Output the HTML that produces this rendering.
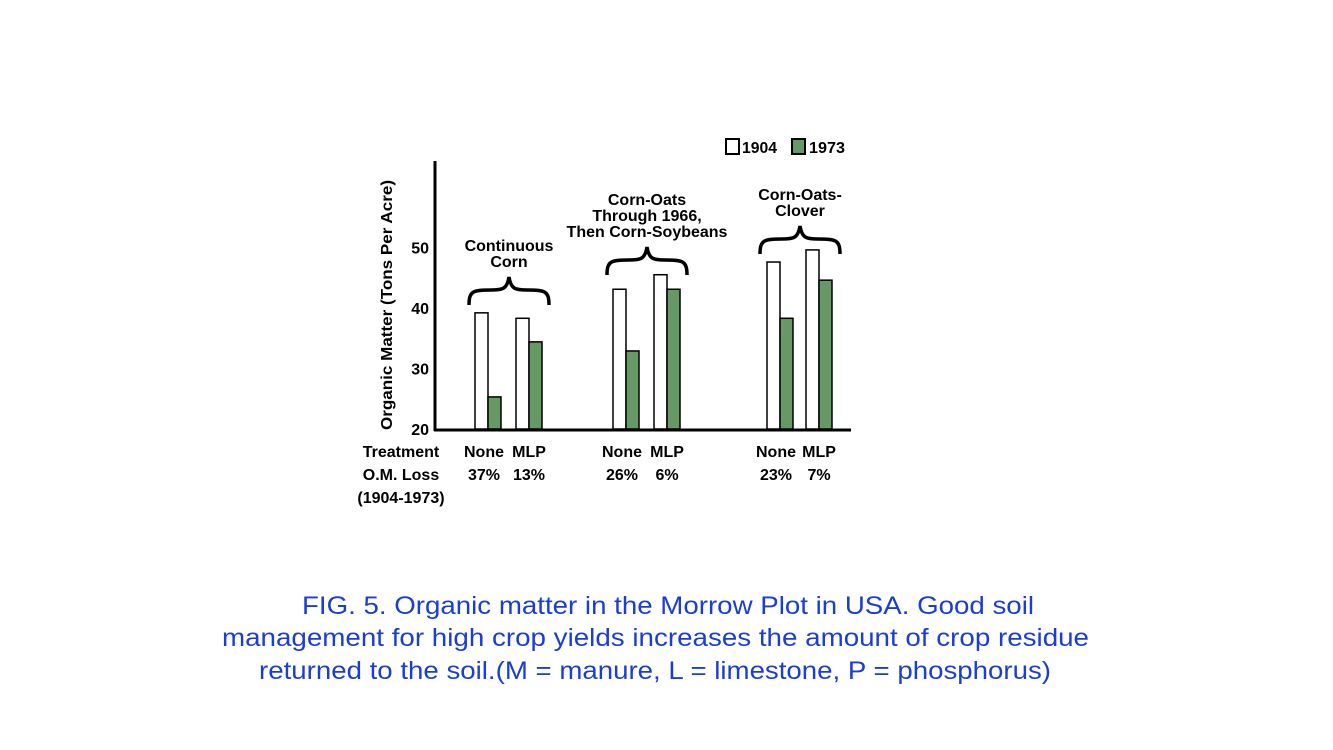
<!DOCTYPE html>
<html><head><meta charset="utf-8"><style>
html,body{margin:0;padding:0;background:#fff;}
svg{display:block;font-family:"Liberation Sans",sans-serif;}
.b{font-weight:bold;font-size:16px;fill:#000;}
.cap{font-size:25px;fill:#1a3ed4;}
</style></head><body>
<svg id="chart" width="1333" height="750" viewBox="0 0 1333 750">
<g id="bars"></g>
<line x1="435" y1="161" x2="435" y2="431" stroke="#000" stroke-width="3"/>
<line x1="434" y1="430" x2="851" y2="430" stroke="#000" stroke-width="3"/>
<g id="ticks"></g>
<text class="b" transform="translate(392,305) rotate(-90)" text-anchor="middle" textLength="250" lengthAdjust="spacingAndGlyphs">Organic Matter (Tons Per Acre)</text>
<g>
<rect x="726" y="139" width="13" height="15" fill="#fff" stroke="#000" stroke-width="2"/>
<text class="b" x="742" y="153" textLength="35" lengthAdjust="spacingAndGlyphs">1904</text>
<rect x="792" y="139" width="13" height="15" fill="#669966" stroke="#000" stroke-width="2"/>
<text class="b" x="809" y="153" textLength="36" lengthAdjust="spacingAndGlyphs">1973</text>
</g>
<g id="groups"></g>
<g id="bottom"></g>
<g>
<text class="cap" x="302" y="614" textLength="732" lengthAdjust="spacingAndGlyphs">FIG. 5. Organic matter in the Morrow Plot in USA. Good soil</text>
<text class="cap" x="222" y="646" textLength="867" lengthAdjust="spacingAndGlyphs">management for high crop yields increases the amount of crop residue</text>
<text class="cap" x="259" y="679" textLength="792" lengthAdjust="spacingAndGlyphs">returned to the soil.(M = manure, L = limestone, P = phosphorus)</text>
</g>
</svg>
<script>
const categories = ["CC-None","CC-MLP","COS-None","COS-MLP","COC-None","COC-MLP"];
const values1904 = [39.2, 38.3, 43.1, 45.5, 47.6, 49.6];
const values1973 = [25.3, 34.4, 32.9, 43.1, 38.3, 44.6];
const tickValues = [20, 30, 40, 50];
const treatments = ["None","MLP","None","MLP","None","MLP"];
const losses = ["37%","13%","26%","6%","23%","7%"];
const groupNames = [["Continuous","Corn"],["Corn-Oats","Through 1966,","Then Corn-Soybeans"],["Corn-Oats-","Clover"]];

const NS = "http://www.w3.org/2000/svg";
const slotX = [475, 516, 613, 654, 767, 806];
function y(v){ return 429 - (v - 20) * 6.05; }
function xPos(i){ return slotX[i]; }
const BW = 13;
function mk(tag, attrs, parent){ const e=document.createElementNS(NS,tag); for(const k in attrs) e.setAttribute(k,attrs[k]); parent.appendChild(e); return e; }

const bars = document.getElementById("bars");
categories.forEach((c,i)=>{
  const x = xPos(i);
  const r1 = mk("rect",{x:x,y:y(values1904[i]),width:BW,height:429-y(values1904[i]),fill:"#fff",stroke:"#000","stroke-width":1.5},bars);
  
  
  const r2 = mk("rect",{x:x+BW,y:y(values1973[i]),width:BW,height:429-y(values1973[i]),fill:"#669966",stroke:"#000","stroke-width":1.5},bars);
  
  
});

const ticks = document.getElementById("ticks");
tickValues.forEach(v=>{
  const t = mk("text",{x:429,y:y(v)+6,"text-anchor":"end",class:"b"},ticks);
  t.textContent = v;
  
  
});

const groups = document.getElementById("groups");
const groupCenters = [509, 647, 800];
const braceY = [277, 247, 226];
groupNames.forEach((lines,g)=>{
  const cx = groupCenters[g], ty = braceY[g];
  const n = lines.length;
  lines.forEach((ln,k)=>{
    const t = mk("text",{x:cx,y:ty - 10 - (n-1-k)*16,"text-anchor":"middle",class:"b"},groups);
    t.textContent = ln;
    
    
  });
  const h = 40, d = 12;
  const p = `M${cx-h},${ty+28} C${cx-h},${ty+14} ${cx-h+4},${ty+13} ${cx-18},${ty+13} C${cx-6},${ty+13} ${cx-2},${ty+12} ${cx},${ty} C${cx+2},${ty+12} ${cx+6},${ty+13} ${cx+18},${ty+13} C${cx+h-4},${ty+13} ${cx+h},${ty+14} ${cx+h},${ty+28}`;
  const br = mk("path",{d:p,fill:"none",stroke:"#000","stroke-width":3.5},groups);
  
  
});

const bottom = document.getElementById("bottom");
[["Treatment",457],["O.M. Loss",480],["(1904-1973)",503]].forEach(([s,yy],k)=>{
  const t = mk("text",{x:401,y:yy,"text-anchor":"middle",class:"b"},bottom);
  t.textContent = s;
  
  
});
treatments.forEach((s,i)=>{
  const cx = xPos(i) + BW;
  const t = mk("text",{x:cx - (i%2==0?4:0),y:457,"text-anchor":"middle",class:"b"},bottom);
  t.textContent = s;
  
  
  const l = mk("text",{x:cx - (i%2==0?4:0),y:480,"text-anchor":"middle",class:"b"},bottom);
  l.textContent = losses[i];
  
  
});
</script>
</body></html>
